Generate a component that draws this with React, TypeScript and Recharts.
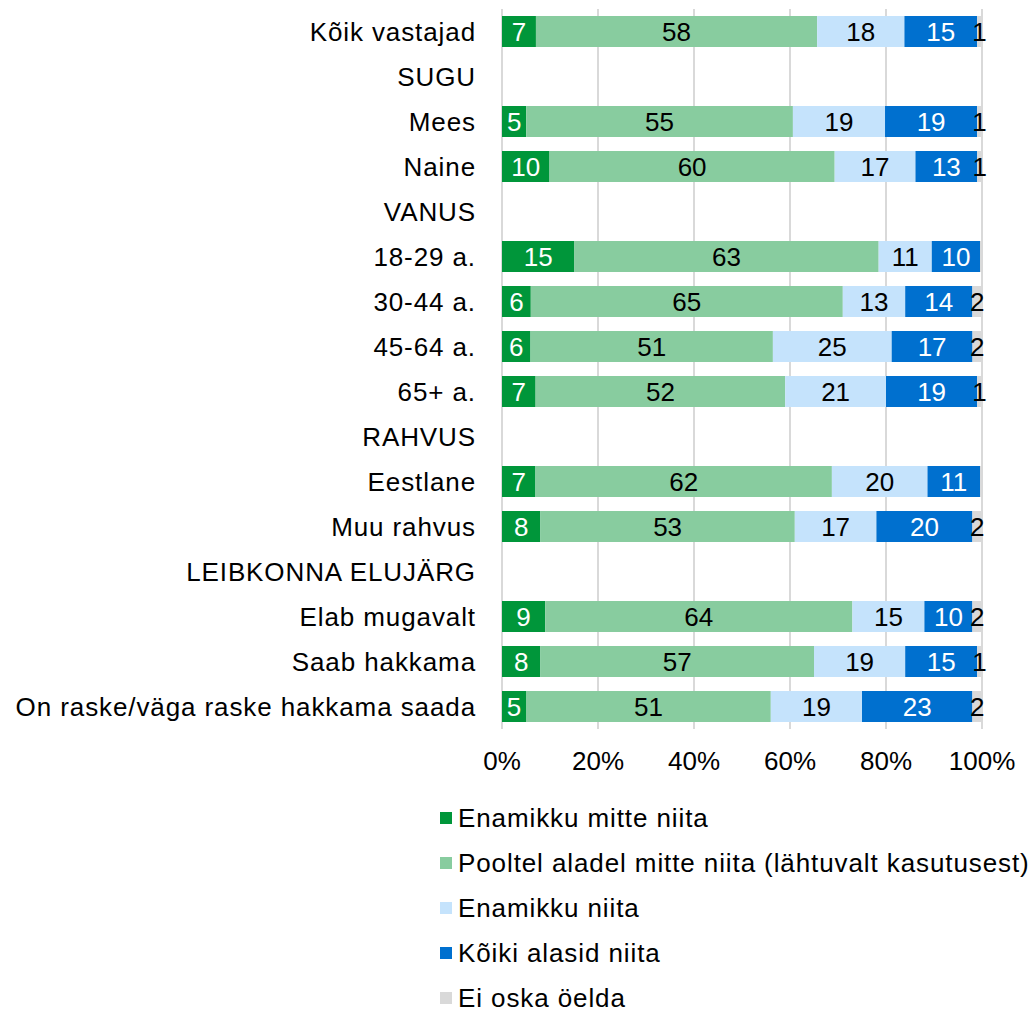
import React from "react";
import { Bar, BarChart, CartesianGrid, LabelList, XAxis, YAxis } from "recharts";

const categories = [
  "Kõik vastajad",
  "SUGU",
  "Mees",
  "Naine",
  "VANUS",
  "18-29 a.",
  "30-44 a.",
  "45-64 a.",
  "65+ a.",
  "RAHVUS",
  "Eestlane",
  "Muu rahvus",
  "LEIBKONNA ELUJÄRG",
  "Elab mugavalt",
  "Saab hakkama",
  "On raske/väga raske hakkama saada",
];

const enamikkuMitte = [7, null, 5, 10, null, 15, 6, 6, 7, null, 7, 8, null, 9, 8, 5];
const pooltelMitte = [58, null, 55, 60, null, 63, 65, 51, 52, null, 62, 53, null, 64, 57, 51];
const enamikkuNiita = [18, null, 19, 17, null, 11, 13, 25, 21, null, 20, 17, null, 15, 19, 19];
const koikiNiita = [15, null, 19, 13, null, 10, 14, 17, 19, null, 11, 20, null, 10, 15, 23];
const eiOska = [1, null, 1, 1, null, 0.4, 2, 2, 1, null, 0.4, 2, null, 2, 1, 2];

const xTicks = [0, 0.2, 0.4, 0.6, 0.8, 1];

const SERIES = [
  { key: "a", name: "Enamikku mitte niita", values: enamikkuMitte, color: "#00963a", text: "#fff" },
  { key: "b", name: "Pooltel aladel mitte niita (lähtuvalt kasutusest)", values: pooltelMitte, color: "#88cc9f", text: "#000" },
  { key: "c", name: "Enamikku niita", values: enamikkuNiita, color: "#c5e3fc", text: "#000" },
  { key: "d", name: "Kõiki alasid niita", values: koikiNiita, color: "#0070cf", text: "#fff" },
  { key: "e", name: "Ei oska öelda", values: eiOska, color: "#d9d9d9", text: "#000" },
];

const data = categories.map((name, i) => {
  const row: Record<string, any> = { name };
  SERIES.forEach((s) => {
    row[s.key] = s.values[i];
  });
  return row;
});

const FONT = '"Liberation Sans", Arial, sans-serif';

function CatTick(props: any) {
  const { x, y, payload } = props;
  return (
    <text
      x={x}
      y={y}
      dy={9}
      textAnchor="end"
      fontSize={26}
      letterSpacing={0.9}
      fill="#000"
      fontFamily={FONT}
    >
      {payload.value}
    </text>
  );
}

function makeLabel(color: string) {
  return (props: any) => {
    const { x, y, width, height } = props;
    let v = props.value;
    if (Array.isArray(v)) v = v[1] - v[0];
    if (v == null || typeof v !== "number" || v < 0.5) return null;
    return (
      <text
        x={x + width / 2}
        y={y + height / 2}
        dy={9}
        textAnchor="middle"
        fontSize={26}
        fill={color}
        fontFamily={FONT}
      >
        {v}
      </text>
    );
  };
}

export default function App() {
  return (
    <div style={{ position: "absolute", left: 0, top: 0, width: 1035, height: 1011, background: "#fff", fontFamily: FONT }}>
      <BarChart
        width={1035}
        height={1011}
        data={data}
        layout="vertical"
        stackOffset="expand"
        margin={{ top: 9, right: 53, left: 0, bottom: 242 }}
      >
        <CartesianGrid horizontal={false} stroke="#d9d9d9" strokeWidth={2} />
        <XAxis
          type="number"
          domain={[0, 1]}
          ticks={xTicks}
          tickFormatter={(v: number) => `${Math.round(v * 100)}%`}
          axisLine={false}
          tickLine={false}
          tickSize={0}
          tickMargin={23}
          height={40}
          tick={{ fontSize: 26, fill: "#000", fontFamily: FONT }}
        />
        <YAxis
          type="category"
          dataKey="name"
          width={502}
          axisLine={false}
          tickLine={false}
          tickSize={0}
          tickMargin={26}
          interval={0}
          tick={<CatTick />}
        />
        {SERIES.map((s) => (
          <Bar key={s.key} dataKey={s.key} name={s.name} stackId="1" fill={s.color} barSize={31} isAnimationActive={false}>
            <LabelList dataKey={s.key} content={makeLabel(s.text)} />
          </Bar>
        ))}
      </BarChart>
      <div style={{ position: "absolute", left: 440, top: 795 }}>
        {SERIES.map((s) => (
          <div key={s.key} style={{ display: "flex", alignItems: "center", height: 45, lineHeight: "26px" }}>
            <div style={{ width: 12, height: 12, background: s.color, marginRight: 6 }} />
            <span style={{ fontSize: 26, letterSpacing: 0.9, color: "#000", whiteSpace: "nowrap" }}>{s.name}</span>
          </div>
        ))}
      </div>
    </div>
  );
}
